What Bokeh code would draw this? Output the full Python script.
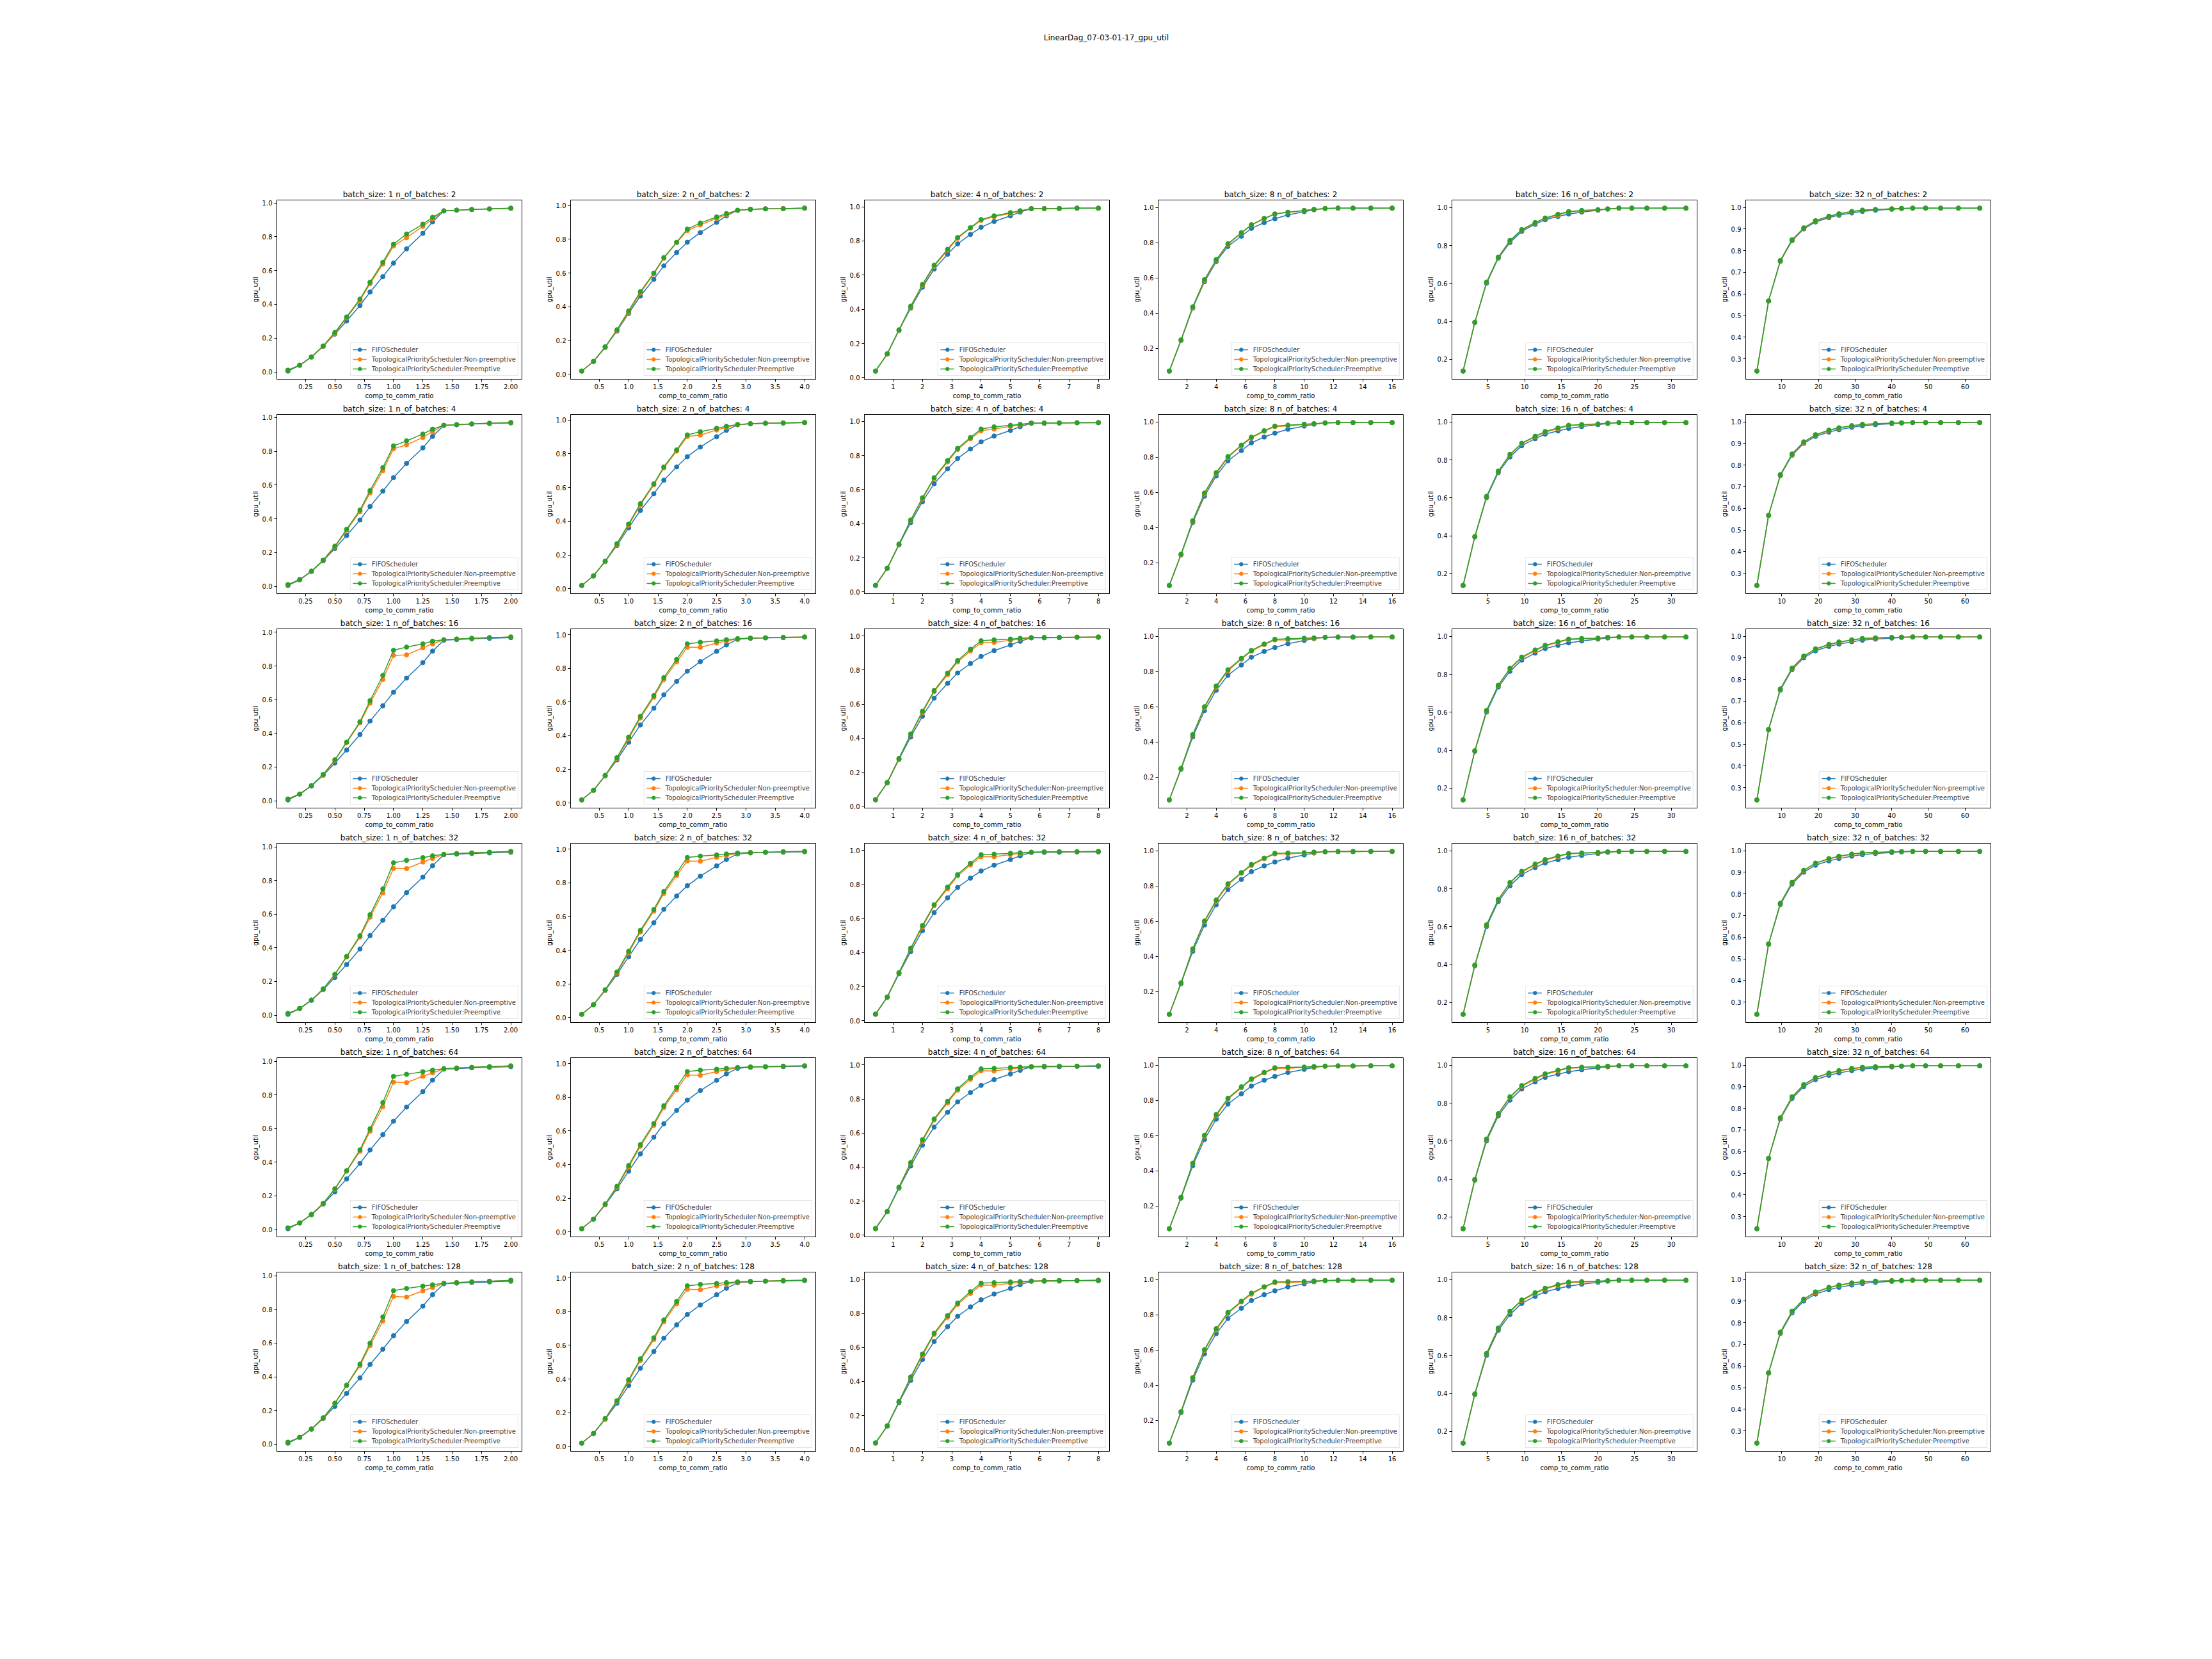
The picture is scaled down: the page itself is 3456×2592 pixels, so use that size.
from bokeh.plotting import figure
from bokeh.layouts import column, row
from bokeh.models import Spacer, Label, FixedTicker, Range1d, Legend, LegendItem
from bokeh.embed import file_html
from bokeh.resources import INLINE

# ---------------- data ----------------
SUPTITLE = "LinearDag_07-03-01-17_gpu_util"
BATCH_SIZES = [1, 2, 4, 8, 16, 32]
N_OF_BATCHES = [2, 4, 16, 32, 64, 128]
SERIES_NAMES = ["FIFOScheduler",
                "TopologicalPriorityScheduler:Non-preemptive",
                "TopologicalPriorityScheduler:Preemptive"]
COLORS = ["#1f77b4", "#ff7f0e", "#2ca02c"]

X_BS1 = [0.1, 0.2, 0.3, 0.4, 0.5, 0.6, 0.714, 0.8, 0.909, 1.0, 1.111, 1.25, 1.333, 1.429, 1.538, 1.667, 1.818, 2.0]
X_BS2 = [0.2, 0.4, 0.6, 0.8, 1.0, 1.2, 1.429, 1.6, 1.818, 2.0, 2.222, 2.5, 2.667, 2.857, 3.077, 3.333, 3.636, 4.0]
X_BS4 = [0.4, 0.8, 1.2, 1.6, 2.0, 2.4, 2.857, 3.2, 3.636, 4.0, 4.444, 5.0, 5.333, 5.714, 6.154, 6.667, 7.273, 8.0]
X_BS8 = [0.8, 1.6, 2.4, 3.2, 4.0, 4.8, 5.714, 6.4, 7.273, 8.0, 8.889, 10.0, 10.667, 11.429, 12.308, 13.333, 14.545, 16.0]
X_BS16 = [1.6, 3.2, 4.8, 6.4, 8.0, 9.6, 11.429, 12.8, 14.545, 16.0, 17.778, 20.0, 21.333, 22.857, 24.615, 26.667, 29.091, 32.0]
X_BS32 = [3.2, 6.4, 9.6, 12.8, 16.0, 19.2, 22.857, 25.6, 29.091, 32.0, 35.556, 40.0, 42.667, 45.714, 49.231, 53.333, 58.182, 64.0]

FIFO_BS1 = [0.005, 0.039, 0.088, 0.151, 0.224, 0.301, 0.393, 0.473, 0.564, 0.644, 0.728, 0.820, 0.888, 0.953, 0.957, 0.961, 0.964, 0.968]
NP_BS1 = [
    [0.010, 0.040, 0.088, 0.152, 0.228, 0.320, 0.424, 0.522, 0.638, 0.745, 0.794, 0.861, 0.906, 0.953, 0.957, 0.961, 0.964, 0.968],
    [0.010, 0.040, 0.089, 0.153, 0.233, 0.332, 0.442, 0.553, 0.685, 0.815, 0.838, 0.882, 0.916, 0.954, 0.958, 0.962, 0.966, 0.970],
    [0.010, 0.040, 0.090, 0.152, 0.240, 0.345, 0.462, 0.579, 0.720, 0.863, 0.866, 0.908, 0.931, 0.955, 0.960, 0.964, 0.968, 0.972],
    [0.010, 0.040, 0.090, 0.153, 0.240, 0.346, 0.464, 0.582, 0.727, 0.872, 0.871, 0.910, 0.931, 0.955, 0.960, 0.964, 0.968, 0.972],
    [0.010, 0.040, 0.090, 0.153, 0.240, 0.347, 0.465, 0.584, 0.730, 0.876, 0.873, 0.911, 0.931, 0.955, 0.960, 0.964, 0.968, 0.972],
    [0.010, 0.040, 0.090, 0.153, 0.240, 0.348, 0.466, 0.585, 0.732, 0.878, 0.874, 0.911, 0.931, 0.955, 0.960, 0.964, 0.968, 0.972],
]
P_BS1 = [
    [0.010, 0.040, 0.089, 0.154, 0.234, 0.325, 0.431, 0.531, 0.649, 0.756, 0.816, 0.874, 0.915, 0.953, 0.957, 0.961, 0.965, 0.969],
    [0.010, 0.040, 0.090, 0.155, 0.238, 0.338, 0.452, 0.567, 0.703, 0.832, 0.862, 0.902, 0.931, 0.954, 0.958, 0.962, 0.966, 0.970],
    [0.010, 0.040, 0.090, 0.156, 0.243, 0.348, 0.469, 0.594, 0.744, 0.893, 0.912, 0.931, 0.947, 0.956, 0.960, 0.964, 0.968, 0.972],
    [0.010, 0.040, 0.090, 0.156, 0.243, 0.349, 0.472, 0.597, 0.750, 0.905, 0.920, 0.936, 0.947, 0.956, 0.960, 0.964, 0.968, 0.973],
    [0.010, 0.040, 0.090, 0.156, 0.243, 0.350, 0.474, 0.599, 0.754, 0.910, 0.923, 0.938, 0.947, 0.956, 0.960, 0.964, 0.968, 0.973],
    [0.010, 0.040, 0.090, 0.156, 0.243, 0.350, 0.475, 0.600, 0.756, 0.912, 0.925, 0.939, 0.947, 0.956, 0.960, 0.964, 0.968, 0.974],
]

FIFO_BS2 = [0.019, 0.076, 0.161, 0.256, 0.361, 0.464, 0.563, 0.643, 0.722, 0.783, 0.840, 0.901, 0.939, 0.972, 0.978, 0.981, 0.982, 0.985]
NP_BS2 = [
    [0.019, 0.076, 0.158, 0.260, 0.368, 0.482, 0.596, 0.688, 0.781, 0.852, 0.886, 0.924, 0.947, 0.972, 0.978, 0.981, 0.982, 0.985],
    [0.019, 0.076, 0.160, 0.262, 0.376, 0.496, 0.616, 0.716, 0.816, 0.902, 0.911, 0.941, 0.956, 0.973, 0.978, 0.981, 0.983, 0.985],
    [0.019, 0.076, 0.162, 0.264, 0.382, 0.505, 0.628, 0.733, 0.838, 0.925, 0.925, 0.950, 0.962, 0.974, 0.979, 0.981, 0.984, 0.986],
    [0.019, 0.076, 0.163, 0.265, 0.384, 0.508, 0.632, 0.737, 0.843, 0.930, 0.929, 0.952, 0.963, 0.975, 0.980, 0.982, 0.985, 0.987],
    [0.019, 0.076, 0.163, 0.265, 0.385, 0.509, 0.633, 0.739, 0.845, 0.933, 0.931, 0.953, 0.964, 0.975, 0.980, 0.982, 0.985, 0.987],
    [0.019, 0.076, 0.163, 0.266, 0.387, 0.510, 0.634, 0.740, 0.847, 0.934, 0.931, 0.953, 0.964, 0.975, 0.980, 0.982, 0.985, 0.987],
]
P_BS2 = [
    [0.019, 0.076, 0.163, 0.264, 0.376, 0.490, 0.600, 0.692, 0.783, 0.861, 0.897, 0.933, 0.953, 0.973, 0.978, 0.981, 0.982, 0.985],
    [0.019, 0.076, 0.164, 0.267, 0.384, 0.504, 0.622, 0.722, 0.823, 0.912, 0.931, 0.951, 0.963, 0.974, 0.978, 0.981, 0.983, 0.985],
    [0.019, 0.076, 0.165, 0.270, 0.392, 0.515, 0.638, 0.745, 0.853, 0.945, 0.955, 0.963, 0.970, 0.976, 0.979, 0.981, 0.984, 0.986],
    [0.019, 0.076, 0.165, 0.271, 0.394, 0.518, 0.642, 0.749, 0.858, 0.951, 0.959, 0.966, 0.972, 0.977, 0.980, 0.982, 0.985, 0.987],
    [0.019, 0.076, 0.166, 0.271, 0.395, 0.519, 0.644, 0.750, 0.860, 0.953, 0.961, 0.967, 0.972, 0.977, 0.980, 0.982, 0.985, 0.987],
    [0.019, 0.076, 0.166, 0.271, 0.396, 0.520, 0.645, 0.751, 0.861, 0.954, 0.962, 0.968, 0.973, 0.977, 0.980, 0.982, 0.985, 0.987],
]

FIFO_BS4 = [0.038, 0.138, 0.276, 0.407, 0.529, 0.635, 0.722, 0.783, 0.838, 0.880, 0.914, 0.947, 0.969, 0.989, 0.989, 0.990, 0.992, 0.992]
NP_BS4 = [
    [0.038, 0.138, 0.278, 0.413, 0.539, 0.652, 0.746, 0.816, 0.875, 0.921, 0.942, 0.961, 0.975, 0.989, 0.989, 0.990, 0.992, 0.992],
    [0.038, 0.139, 0.279, 0.418, 0.545, 0.665, 0.762, 0.835, 0.898, 0.945, 0.955, 0.970, 0.979, 0.990, 0.990, 0.991, 0.992, 0.993],
    [0.038, 0.140, 0.280, 0.421, 0.550, 0.674, 0.773, 0.848, 0.912, 0.960, 0.962, 0.975, 0.982, 0.990, 0.991, 0.992, 0.993, 0.994],
    [0.038, 0.140, 0.280, 0.422, 0.551, 0.676, 0.776, 0.851, 0.915, 0.964, 0.964, 0.976, 0.983, 0.990, 0.992, 0.993, 0.993, 0.995],
    [0.038, 0.140, 0.280, 0.422, 0.552, 0.677, 0.777, 0.852, 0.916, 0.966, 0.965, 0.977, 0.983, 0.990, 0.992, 0.993, 0.993, 0.995],
    [0.038, 0.140, 0.280, 0.422, 0.552, 0.677, 0.778, 0.853, 0.917, 0.967, 0.966, 0.977, 0.983, 0.990, 0.992, 0.993, 0.993, 0.995],
]
P_BS4 = [
    [0.038, 0.140, 0.280, 0.418, 0.545, 0.658, 0.751, 0.820, 0.878, 0.925, 0.947, 0.966, 0.977, 0.989, 0.989, 0.990, 0.992, 0.992],
    [0.039, 0.140, 0.281, 0.422, 0.552, 0.670, 0.770, 0.842, 0.905, 0.955, 0.968, 0.977, 0.983, 0.990, 0.990, 0.991, 0.992, 0.993],
    [0.040, 0.140, 0.282, 0.425, 0.558, 0.680, 0.782, 0.856, 0.922, 0.972, 0.977, 0.982, 0.986, 0.990, 0.991, 0.992, 0.993, 0.994],
    [0.040, 0.140, 0.283, 0.426, 0.560, 0.682, 0.785, 0.859, 0.925, 0.976, 0.979, 0.984, 0.987, 0.990, 0.992, 0.993, 0.993, 0.995],
    [0.040, 0.140, 0.283, 0.427, 0.561, 0.683, 0.786, 0.860, 0.927, 0.977, 0.980, 0.985, 0.987, 0.990, 0.992, 0.993, 0.993, 0.995],
    [0.040, 0.140, 0.283, 0.427, 0.562, 0.684, 0.787, 0.861, 0.928, 0.978, 0.981, 0.985, 0.987, 0.990, 0.992, 0.993, 0.993, 0.995],
]

FIFO_BS8 = [0.071, 0.245, 0.429, 0.578, 0.693, 0.779, 0.837, 0.881, 0.914, 0.936, 0.958, 0.976, 0.987, 0.994, 0.996, 0.996, 0.996, 0.996]
NP_BS8 = [
    [0.071, 0.246, 0.433, 0.585, 0.700, 0.790, 0.854, 0.900, 0.936, 0.963, 0.972, 0.982, 0.988, 0.994, 0.996, 0.996, 0.996, 0.996],
    [0.071, 0.247, 0.436, 0.591, 0.706, 0.798, 0.864, 0.909, 0.947, 0.973, 0.977, 0.985, 0.989, 0.994, 0.996, 0.996, 0.996, 0.996],
    [0.071, 0.248, 0.439, 0.595, 0.711, 0.804, 0.870, 0.915, 0.953, 0.979, 0.980, 0.986, 0.989, 0.994, 0.995, 0.995, 0.996, 0.996],
    [0.071, 0.249, 0.440, 0.596, 0.713, 0.806, 0.872, 0.916, 0.955, 0.981, 0.981, 0.987, 0.989, 0.994, 0.995, 0.995, 0.996, 0.996],
    [0.071, 0.249, 0.440, 0.597, 0.713, 0.806, 0.872, 0.917, 0.956, 0.981, 0.982, 0.987, 0.989, 0.994, 0.995, 0.995, 0.996, 0.996],
    [0.071, 0.249, 0.440, 0.597, 0.714, 0.807, 0.873, 0.917, 0.957, 0.982, 0.982, 0.987, 0.989, 0.994, 0.995, 0.995, 0.996, 0.996],
]
P_BS8 = [
    [0.071, 0.248, 0.436, 0.590, 0.704, 0.794, 0.857, 0.902, 0.938, 0.963, 0.973, 0.983, 0.989, 0.994, 0.996, 0.996, 0.996, 0.996],
    [0.071, 0.249, 0.439, 0.596, 0.712, 0.803, 0.868, 0.913, 0.950, 0.976, 0.981, 0.987, 0.990, 0.994, 0.996, 0.996, 0.996, 0.996],
    [0.071, 0.250, 0.442, 0.600, 0.718, 0.810, 0.875, 0.920, 0.956, 0.983, 0.986, 0.989, 0.991, 0.994, 0.995, 0.995, 0.996, 0.996],
    [0.071, 0.250, 0.443, 0.601, 0.720, 0.812, 0.876, 0.922, 0.958, 0.985, 0.987, 0.989, 0.992, 0.994, 0.995, 0.995, 0.996, 0.996],
    [0.071, 0.250, 0.443, 0.602, 0.720, 0.812, 0.877, 0.922, 0.959, 0.985, 0.988, 0.989, 0.992, 0.994, 0.995, 0.995, 0.996, 0.996],
    [0.071, 0.250, 0.443, 0.602, 0.721, 0.813, 0.877, 0.923, 0.959, 0.986, 0.988, 0.989, 0.992, 0.994, 0.995, 0.995, 0.996, 0.996],
]

FIFO_BS16 = [0.138, 0.394, 0.601, 0.733, 0.816, 0.875, 0.912, 0.936, 0.953, 0.966, 0.976, 0.986, 0.992, 0.997, 0.997, 0.997, 0.997, 0.997]
NP_BS16 = [
    [0.138, 0.395, 0.605, 0.737, 0.824, 0.881, 0.918, 0.944, 0.960, 0.977, 0.982, 0.988, 0.993, 0.997, 0.997, 0.997, 0.997, 0.997],
    [0.138, 0.396, 0.606, 0.739, 0.827, 0.885, 0.922, 0.947, 0.965, 0.980, 0.984, 0.989, 0.993, 0.997, 0.997, 0.997, 0.997, 0.997],
    [0.138, 0.397, 0.607, 0.741, 0.829, 0.887, 0.925, 0.950, 0.968, 0.983, 0.986, 0.990, 0.994, 0.997, 0.997, 0.997, 0.997, 0.997],
    [0.138, 0.397, 0.608, 0.742, 0.830, 0.888, 0.926, 0.951, 0.969, 0.984, 0.987, 0.990, 0.994, 0.997, 0.997, 0.997, 0.997, 0.997],
    [0.138, 0.397, 0.608, 0.742, 0.830, 0.889, 0.927, 0.951, 0.970, 0.984, 0.987, 0.990, 0.994, 0.997, 0.997, 0.997, 0.997, 0.997],
    [0.138, 0.397, 0.608, 0.742, 0.830, 0.889, 0.927, 0.951, 0.970, 0.984, 0.987, 0.990, 0.994, 0.997, 0.997, 0.997, 0.997, 0.997],
]
P_BS16 = [
    [0.138, 0.395, 0.607, 0.739, 0.827, 0.884, 0.921, 0.945, 0.965, 0.979, 0.985, 0.989, 0.993, 0.997, 0.997, 0.997, 0.997, 0.997],
    [0.138, 0.396, 0.608, 0.741, 0.830, 0.888, 0.925, 0.950, 0.969, 0.983, 0.987, 0.990, 0.994, 0.997, 0.997, 0.997, 0.997, 0.997],
    [0.138, 0.397, 0.610, 0.743, 0.832, 0.891, 0.929, 0.953, 0.972, 0.986, 0.989, 0.991, 0.995, 0.997, 0.997, 0.997, 0.997, 0.997],
    [0.138, 0.398, 0.610, 0.744, 0.833, 0.892, 0.930, 0.954, 0.973, 0.986, 0.989, 0.992, 0.995, 0.997, 0.997, 0.997, 0.997, 0.997],
    [0.138, 0.398, 0.611, 0.745, 0.834, 0.893, 0.931, 0.955, 0.974, 0.987, 0.990, 0.992, 0.995, 0.997, 0.997, 0.997, 0.997, 0.997],
    [0.138, 0.398, 0.611, 0.745, 0.834, 0.893, 0.931, 0.955, 0.974, 0.987, 0.990, 0.992, 0.995, 0.997, 0.997, 0.997, 0.997, 0.997],
]

FIFO_BS32 = [0.243, 0.567, 0.751, 0.846, 0.901, 0.933, 0.953, 0.964, 0.975, 0.982, 0.987, 0.992, 0.995, 0.997, 0.997, 0.997, 0.997, 0.997]
NP_BS32 = [
    [0.243, 0.567, 0.753, 0.849, 0.904, 0.937, 0.958, 0.969, 0.980, 0.987, 0.990, 0.994, 0.995, 0.997, 0.997, 0.997, 0.997, 0.997],
    [0.243, 0.567, 0.754, 0.850, 0.906, 0.939, 0.960, 0.971, 0.981, 0.988, 0.991, 0.994, 0.996, 0.997, 0.997, 0.997, 0.997, 0.997],
    [0.243, 0.568, 0.755, 0.851, 0.907, 0.940, 0.961, 0.972, 0.982, 0.989, 0.992, 0.995, 0.996, 0.997, 0.997, 0.997, 0.997, 0.997],
    [0.243, 0.568, 0.755, 0.852, 0.908, 0.941, 0.962, 0.973, 0.983, 0.989, 0.992, 0.995, 0.996, 0.997, 0.997, 0.997, 0.997, 0.997],
    [0.243, 0.568, 0.755, 0.852, 0.908, 0.941, 0.962, 0.973, 0.983, 0.989, 0.992, 0.995, 0.996, 0.997, 0.997, 0.997, 0.997, 0.997],
    [0.243, 0.568, 0.755, 0.852, 0.908, 0.941, 0.962, 0.973, 0.983, 0.989, 0.992, 0.995, 0.996, 0.997, 0.997, 0.997, 0.997, 0.997],
]
P_BS32 = [
    [0.243, 0.568, 0.755, 0.851, 0.906, 0.939, 0.960, 0.971, 0.982, 0.988, 0.991, 0.994, 0.996, 0.997, 0.997, 0.997, 0.997, 0.997],
    [0.243, 0.568, 0.756, 0.852, 0.908, 0.941, 0.962, 0.973, 0.983, 0.989, 0.992, 0.995, 0.996, 0.997, 0.997, 0.997, 0.997, 0.997],
    [0.243, 0.569, 0.757, 0.853, 0.909, 0.942, 0.963, 0.974, 0.984, 0.990, 0.993, 0.995, 0.996, 0.997, 0.997, 0.997, 0.997, 0.997],
    [0.243, 0.569, 0.757, 0.854, 0.910, 0.943, 0.964, 0.975, 0.985, 0.990, 0.993, 0.995, 0.996, 0.997, 0.997, 0.997, 0.997, 0.997],
    [0.243, 0.569, 0.757, 0.854, 0.910, 0.943, 0.964, 0.975, 0.985, 0.990, 0.993, 0.995, 0.996, 0.997, 0.997, 0.997, 0.997, 0.997],
    [0.243, 0.569, 0.757, 0.854, 0.910, 0.943, 0.964, 0.975, 0.985, 0.990, 0.993, 0.995, 0.996, 0.997, 0.997, 0.997, 0.997, 0.997],
]

X_TICKS_BS1 = [0.25, 0.5, 0.75, 1.0, 1.25, 1.5, 1.75, 2.0]
X_LABELS_BS1 = ["0.25", "0.50", "0.75", "1.00", "1.25", "1.50", "1.75", "2.00"]
X_TICKS_BS2 = [0.5, 1.0, 1.5, 2.0, 2.5, 3.0, 3.5, 4.0]
X_LABELS_BS2 = ["0.5", "1.0", "1.5", "2.0", "2.5", "3.0", "3.5", "4.0"]
X_TICKS_BS4 = [1, 2, 3, 4, 5, 6, 7, 8]
X_LABELS_BS4 = ["1", "2", "3", "4", "5", "6", "7", "8"]
X_TICKS_BS8 = [2, 4, 6, 8, 10, 12, 14, 16]
X_LABELS_BS8 = ["2", "4", "6", "8", "10", "12", "14", "16"]
X_TICKS_BS16 = [5, 10, 15, 20, 25, 30]
X_LABELS_BS16 = ["5", "10", "15", "20", "25", "30"]
X_TICKS_BS32 = [10, 20, 30, 40, 50, 60]
X_LABELS_BS32 = ["10", "20", "30", "40", "50", "60"]
Y_TICKS_A = [0.0, 0.2, 0.4, 0.6, 0.8, 1.0]
Y_LABELS_A = ["0.0", "0.2", "0.4", "0.6", "0.8", "1.0"]
Y_TICKS_B = [0.3, 0.4, 0.5, 0.6, 0.7, 0.8, 0.9, 1.0]
Y_LABELS_B = ["0.3", "0.4", "0.5", "0.6", "0.7", "0.8", "0.9", "1.0"]

XS = [X_BS1, X_BS2, X_BS4, X_BS8, X_BS16, X_BS32]
FIFO = [FIFO_BS1, FIFO_BS2, FIFO_BS4, FIFO_BS8, FIFO_BS16, FIFO_BS32]
NONPRE = [NP_BS1, NP_BS2, NP_BS4, NP_BS8, NP_BS16, NP_BS32]
PRE = [P_BS1, P_BS2, P_BS4, P_BS8, P_BS16, P_BS32]
X_TICKS = [X_TICKS_BS1, X_TICKS_BS2, X_TICKS_BS4, X_TICKS_BS8, X_TICKS_BS16, X_TICKS_BS32]
X_LABELS = [X_LABELS_BS1, X_LABELS_BS2, X_LABELS_BS4, X_LABELS_BS8, X_LABELS_BS16, X_LABELS_BS32]
Y_TICKS = [Y_TICKS_A, Y_TICKS_A, Y_TICKS_A, Y_TICKS_A, Y_TICKS_A, Y_TICKS_B]
Y_LABELS = [Y_LABELS_A, Y_LABELS_A, Y_LABELS_A, Y_LABELS_A, Y_LABELS_A, Y_LABELS_B]

# ---------------- layout / style ----------------
FONT = "DejaVu Sans"
PAGE_W = 3456
CELL_W, CELL_H = 459, 335
B_LEFT, B_RIGHT, B_TOP, B_BOTTOM = 45, 31, 21, 34
LEFT_PAD = 387
HEADER_H = 291


def make_panel(ci, ri):
    xs = XS[ci]
    series = [FIFO[ci], NONPRE[ci][ri], PRE[ci][ri]]
    ally = [v for s in series for v in s]
    xmin, xmax = min(xs), max(xs)
    ymin, ymax = min(ally), max(ally)
    xp = (xmax - xmin) * 0.05
    yp = (ymax - ymin) * 0.05
    p = figure(width=CELL_W, height=CELL_H, output_backend="svg", toolbar_location=None,
               x_range=Range1d(xmin - xp, xmax + xp), y_range=Range1d(ymin - yp, ymax + yp),
               min_border_left=B_LEFT, min_border_right=B_RIGHT,
               min_border_top=B_TOP, min_border_bottom=B_BOTTOM,
               title="batch_size: %d n_of_batches: %d" % (BATCH_SIZES[ci], N_OF_BATCHES[ri]))
    p.title.text_font = FONT
    p.title.text_font_size = "12px"
    p.title.text_font_style = "normal"
    p.title.text_color = "black"
    p.title.align = "center"
    p.title.standoff = 3
    p.outline_line_color = "black"
    p.outline_line_width = 1
    p.xgrid.visible = False
    p.ygrid.visible = False
    p.background_fill_color = "white"
    p.border_fill_color = "white"

    items = []
    for name, color, ys in zip(SERIES_NAMES, COLORS, series):
        ln = p.line(xs, ys, line_color=color, line_width=1.5)
        sc = p.scatter(xs, ys, size=7, fill_color=color, line_color=color)
        items.append(LegendItem(label=name, renderers=[ln, sc]))

    legend = Legend(items=items, location="bottom_right", margin=5, padding=3,
                    spacing=1, glyph_width=22, glyph_height=14, label_height=14,
                    label_standoff=8, label_text_font=FONT, label_text_font_size="10px",
                    border_line_color="#cccccc", border_line_width=1,
                    background_fill_alpha=0.8)
    p.add_layout(legend)

    p.xaxis.ticker = FixedTicker(ticks=X_TICKS[ci])
    p.xaxis.major_label_overrides = {float(t): lab for t, lab in zip(X_TICKS[ci], X_LABELS[ci])}
    p.yaxis.ticker = FixedTicker(ticks=Y_TICKS[ci])
    p.yaxis.major_label_overrides = {float(t): lab for t, lab in zip(Y_TICKS[ci], Y_LABELS[ci])}
    p.xaxis.axis_label = "comp_to_comm_ratio"
    p.yaxis.axis_label = "gpu_util"
    for ax in (p.xaxis[0], p.yaxis[0]):
        ax.major_label_text_font = FONT
        ax.major_label_text_font_size = "10px"
        ax.major_label_text_color = "black"
        ax.axis_label_text_font = FONT
        ax.axis_label_text_font_size = "10px"
        ax.axis_label_text_font_style = "normal"
        ax.axis_label_text_color = "black"
        ax.axis_label_standoff = 2
        ax.major_label_standoff = 3
        ax.major_tick_out = 4
        ax.major_tick_in = 0
        ax.minor_tick_out = 0
        ax.minor_tick_in = 0
        ax.major_tick_line_color = "black"
        ax.axis_line_color = "black"
    return p


header = figure(width=PAGE_W, height=HEADER_H, output_backend="svg", toolbar_location=None,
                x_range=Range1d(0, PAGE_W), y_range=Range1d(0, HEADER_H),
                x_axis_location=None, y_axis_location=None, min_border=0,
                outline_line_color=None)
header.xgrid.visible = False
header.ygrid.visible = False
header.add_layout(Label(x=PAGE_W / 2, y=HEADER_H - 58, text=SUPTITLE, text_align="center",
                        text_baseline="middle", text_font=FONT, text_font_size="12px",
                        text_color="black"))

rows = [header]
for ri in range(len(N_OF_BATCHES)):
    figs = [make_panel(ci, ri) for ci in range(len(BATCH_SIZES))]
    rows.append(row(Spacer(width=LEFT_PAD, height=CELL_H), *figs))

page = column(*rows)
open("out.html", "w").write(file_html(page, INLINE))
